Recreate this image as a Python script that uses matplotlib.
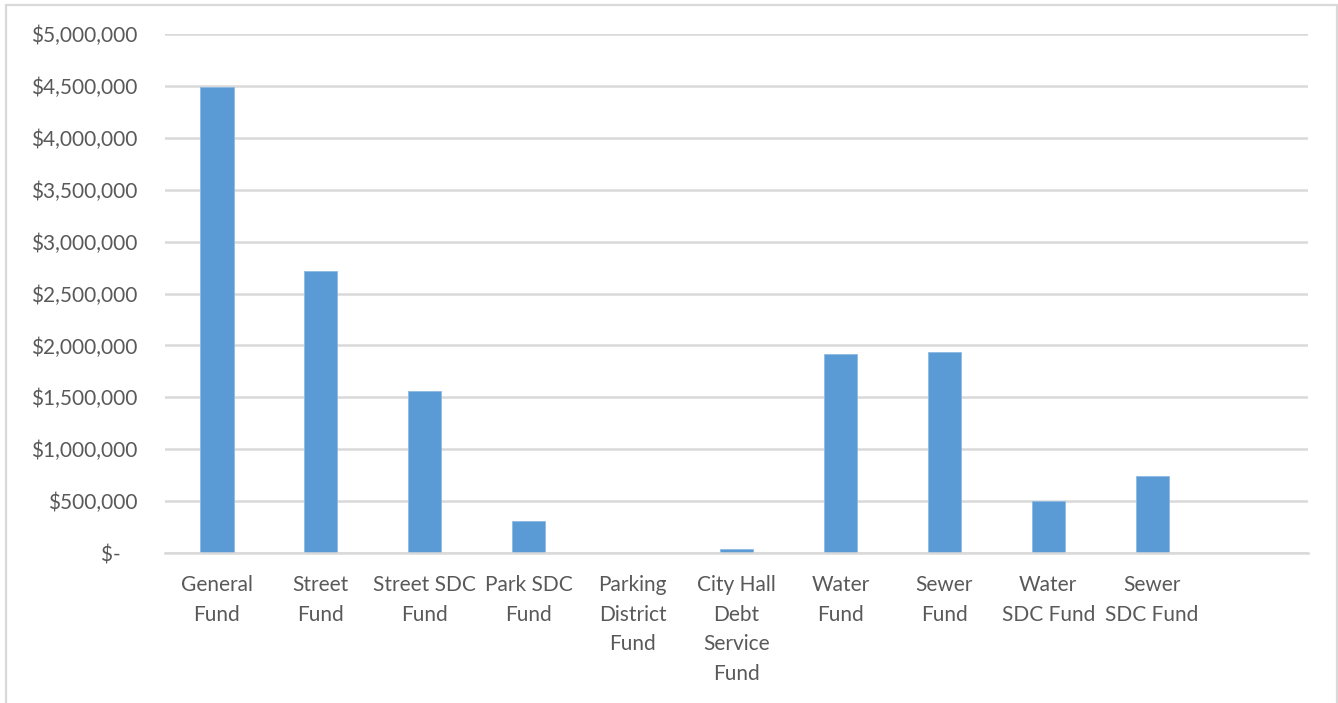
import matplotlib.pyplot as plt
from matplotlib.patches import Rectangle

# fund balances
funds = ['General\nFund', 'Street\nFund', 'Street SDC\nFund', 'Park SDC\nFund',
         'Parking\nDistrict\nFund', 'City Hall\nDebt\nService\nFund', 'Water\nFund',
         'Sewer\nFund', 'Water\nSDC Fund', 'Sewer\nSDC Fund', '']
balances = [4490000, 2717000, 1556000, 306000, 0, 36000, 1914000,
            1940000, 504000, 740000, 0]
yticks = [0, 500000, 1000000, 1500000, 2000000, 2500000, 3000000,
          3500000, 4000000, 4500000, 5000000]
ylabels = ['$-   ', '$500,000', '$1,000,000', '$1,500,000', '$2,000,000', '$2,500,000',
           '$3,000,000', '$3,500,000', '$4,000,000', '$4,500,000', '$5,000,000']

plt.rcParams['font.family'] = ['Lato', 'DejaVu Sans']
txt = '#595959'
grid = '#D9D9D9'

fig = plt.figure(figsize=(13.38, 7.03), dpi=100)
ax = fig.add_axes([165/1338, 1 - 553/703, (1308 - 165)/1338, (553 - 34)/703])

x = range(len(funds))
ax.bar(x, balances, width=0.32, color='#5B9BD5', edgecolor='#8DB9E4', linewidth=0.6, zorder=3)

ax.set_xlim(-0.5, len(funds) - 0.5)
ax.set_ylim(0, 5000000)
ax.set_yticks(yticks)
ax.set_yticklabels(ylabels)
ax.set_xticks(list(x))
ax.set_xticklabels(funds, linespacing=1.6, va='top')

ax.tick_params(axis='y', length=0, pad=20, labelsize=15, labelcolor=txt)
ax.tick_params(axis='x', length=0, pad=16, labelsize=15, labelcolor=txt)
ax.grid(axis='y', color=grid, linewidth=1.8, zorder=0)
for s in ['top', 'right', 'left']:
    ax.spines[s].set_visible(False)
ax.spines['bottom'].set_color(grid)
ax.spines['bottom'].set_linewidth(1.8)
ax.spines['bottom'].set_zorder(4)

# outer chart border
fig.patches.append(Rectangle((6/1338, -0.05), (1337 - 6)/1338, 1.05 - 5/703,
                             transform=fig.transFigure, fill=False,
                             edgecolor=grid, linewidth=1.6))

fig.savefig('out.png', dpi=100)
